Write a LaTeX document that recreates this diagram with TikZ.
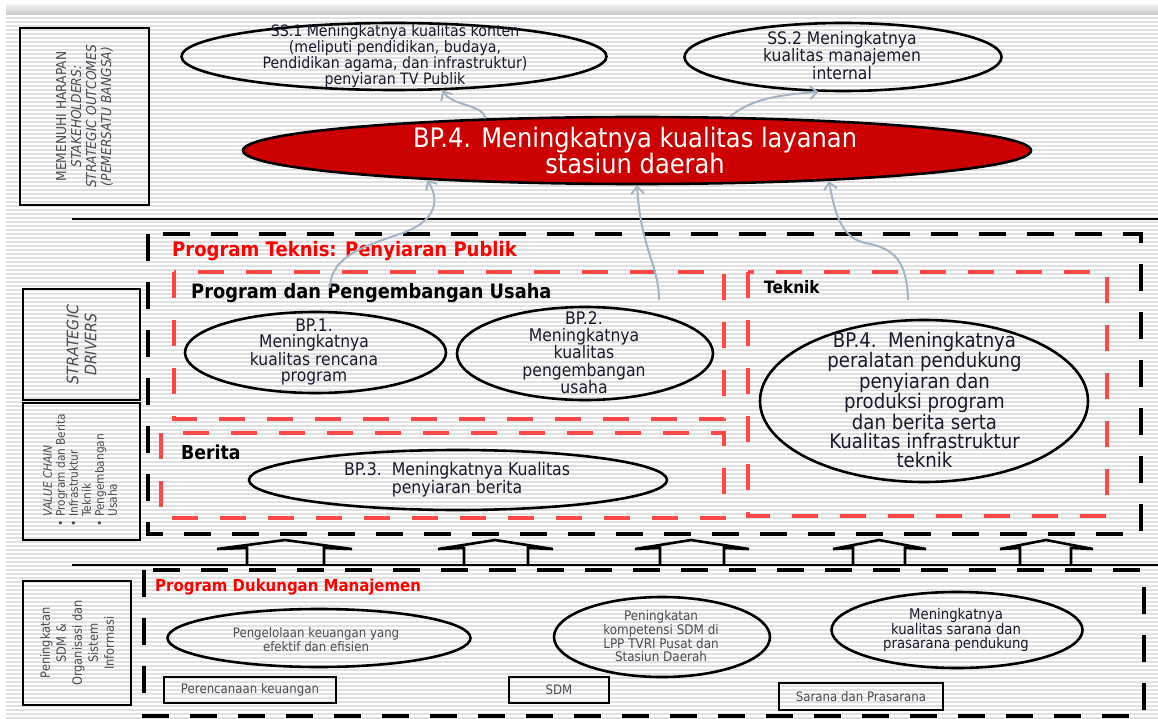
\documentclass[tikz,border=0pt]{standalone}
\usepackage{fontspec}
\setmainfont{DejaVu Sans}[FakeStretch=0.9]
\usetikzlibrary{shapes.geometric, arrows.meta, calc}

\definecolor{layananred}{RGB}{204,0,0}
\definecolor{dashred}{RGB}{255,72,72}
\definecolor{titlered}{RGB}{255,0,0}
\definecolor{linkgray}{RGB}{163,180,198}
\definecolor{stripegray}{RGB}{224,224,224}
\definecolor{inktxt}{RGB}{25,25,45}
\definecolor{softtxt}{RGB}{75,75,85}
\newcommand{\fsz}[2]{\fontsize{\fpeval{1.1*#1}}{#2}\selectfont}

\tikzset{>={Straight Barb[length=7pt,width=13pt]},
    oval/.style={draw, ellipse, line width=2.6pt, inner sep=0pt},
    ovaltxt/.style={align=center, text=inktxt, inner sep=0pt},
    sidebox/.style={draw, line width=2.6pt, inner sep=0pt},
    sidetxt/.style={rotate=90, align=center, text=softtxt, inner sep=0pt},
    blackdash/.style={line width=4.5pt, dash pattern=on 27pt off 21pt},
    reddash/.style={draw=dashred, line width=4.5pt, dash pattern=on 26pt off 22pt},
    link/.style={->, draw=linkgray, line width=2pt},
    house/.style={line width=2.6pt},
    heading/.style={anchor=west, inner sep=0pt}}

\begin{document}
\begin{tikzpicture}[x=1pt, y=-1pt]
    \useasboundingbox (0,0) rectangle (1158,719);

    % striped background
    \shade[top color=gray!12, bottom color=gray!45] (6,5) rectangle (1158,15);
    \foreach \yy in {18,22,...,718}
        \draw[stripegray, line width=1.6pt] (6,\yy) -- (1158,\yy);

    % side captions
    \node[sidebox, minimum width=129pt, minimum height=177pt] (outcomebox) at (84.5,116.5) {};
    \node[sidetxt, font=\fsz{12.4}{15}] (outcometxt) at (outcomebox) {MEMENUHI HARAPAN\\\textit{STAKEHOLDERS:}\\\textit{STRATEGIC OUTCOMES}\\\textit{(PEMERSATU BANGSA)}};
    \node[sidebox, minimum width=117pt, minimum height=111pt] (driverbox) at (81.5,344.5) {};
    \node[sidetxt, font=\fsz{14.4}{18}\itshape] (drivertxt) at (driverbox) {STRATEGIC\\DRIVERS};
    \node[sidebox, minimum width=117pt, minimum height=137pt] (chainbox) at (81.5,471.5) {};
    \node[sidetxt, align=left, font=\fsz{10.7}{13}] (chaintxt) at (80,470) {\hspace*{10pt}\textit{VALUE CHAIN}\\\textbullet\ Program dan Berita\\\textbullet\ Infrastruktur\\\phantom{\textbullet}\ Teknik\\\textbullet\ Pengembangan\\\phantom{\textbullet}\ Usaha};
    \node[sidebox, minimum width=108pt, minimum height=124pt] (orgbox) at (77,643) {};
    \node[sidetxt, font=\fsz{11.6}{16}] (orgtxt) at (orgbox) {Peningkatan\\SDM \&\\Organisasi dan\\Sistem\\Informasi};

    % outcomes
    \node[oval, minimum width=425pt, minimum height=67pt] (ss1) at (394,56.5) {};
    \node[ovaltxt, font=\fsz{14.3}{15.2}] (ss1txt) at (395,56) {SS.1 Meningkatnya kualitas konten\\(meliputi pendidikan, budaya,\\Pendidikan agama, dan infrastruktur)\\penyiaran TV Publik};
    \node[oval, minimum width=317pt, minimum height=68pt] (ss2) at (843,57) {};
    \node[ovaltxt, font=\fsz{15.7}{17.5}] (ss2txt) at (842,55.5) {SS.2 Meningkatnya\\kualitas manajemen\\internal};
    \node[oval, fill=layananred, minimum width=788pt, minimum height=67pt] (layanan) at (637,150.5) {};
    \node[ovaltxt, text=white, font=\fsz{24.4}{26}] (layanantxt) at (635,150) {BP.4. Meningkatnya kualitas layanan\\stasiun daerah};

    \draw[line width=2.5pt] (72,219) -- (1158,219);
    \draw[line width=2.5pt] (72,565) -- (1158,565);

    % program teknis
    \draw[blackdash] (148,234) rectangle (1141,534);
    \draw[reddash] (174,272) rectangle (724,419);
    \draw[reddash] (161,433) rectangle (724,518);
    \draw[reddash] (748,272) rectangle (1107,516);
    \node[heading, text=titlered, font=\fsz{18.2}{20}\bfseries] (teknishead) at (172,251) {Program Teknis: Penyiaran Publik};
    \node[heading, font=\fsz{18}{20}\bfseries] (usahahead) at (191,293) {Program dan Pengembangan Usaha};
    \node[heading, font=\fsz{17.5}{20}\bfseries] (beritahead) at (181,452) {Berita};
    \node[heading, font=\fsz{15.5}{18}\bfseries] (teknikhead) at (764,287) {Teknik};

    \node[oval, minimum width=261pt, minimum height=81pt] (bp1) at (315.5,352.5) {};
    \node[ovaltxt, font=\fsz{15.7}{16.6}] (bp1txt) at (314,352) {BP.1.\\Meningkatnya\\kualitas rencana\\program};
    \node[oval, minimum width=256pt, minimum height=93pt] (bp2) at (585,353.5) {};
    \node[ovaltxt, font=\fsz{15.8}{17.2}] (bp2txt) at (584,352.5) {BP.2.\\Meningkatnya\\kualitas\\pengembangan\\usaha};
    \node[oval, minimum width=418pt, minimum height=60pt] (bp3) at (458,480) {};
    \node[ovaltxt, font=\fsz{15.9}{16.2}] (bp3txt) at (457,480) {BP.3.\ \ Meningkatnya Kualitas\\penyiaran berita};
    \node[oval, minimum width=328pt, minimum height=162pt] (bp4) at (924,401) {};
    \node[ovaltxt, font=\fsz{18.3}{19.3}] (bp4txt) at (924.5,400) {BP.4.\ \ Meningkatnya\\peralatan pendukung\\penyiaran dan\\produksi program\\dan berita serta\\Kualitas infrastruktur\\teknik};

    % house arrows
    \foreach \xa/\xl/\xc/\xr/\xb in {217/247/285/324/352, 438/464/495/528/553, 635/660/691/724/749, 833/853/879/905/926, 1000/1020/1046/1071/1093}
        \draw[house] (\xl,565) -- (\xl,548) -- (\xa,549) -- (\xc,540) -- (\xb,549) -- (\xr,548) -- (\xr,565);

    % dukungan manajemen
    \draw[blackdash] (144,570) rectangle (1144,716);
    \node[heading, text=titlered, font=\fsz{15.1}{17}\bfseries] (dukunganhead) at (155,587) {Program Dukungan Manajemen};
    \node[oval, minimum width=303pt, minimum height=58pt] (keu) at (319,638) {};
    \node[ovaltxt, text=softtxt, font=\fsz{11.9}{14}] (keutxt) at (316,640) {Pengelolaan keuangan yang\\efektif dan efisien};
    \node[oval, minimum width=216pt, minimum height=80pt] (komp) at (662,637) {};
    \node[ovaltxt, text=softtxt, font=\fsz{12.1}{12.7}] (komptxt) at (661,636) {Peningkatan\\kompetensi SDM di\\LPP TVRI Pusat dan\\Stasiun Daerah};
    \node[oval, minimum width=251pt, minimum height=76pt] (prasarana) at (957,630) {};
    \node[ovaltxt, font=\fsz{13.4}{14}] (prasaranatxt) at (956,630) {Meningkatnya\\kualitas sarana dan\\prasarana pendukung};
    \node[sidebox, minimum width=172pt, minimum height=26pt, text=softtxt, font=\fsz{11.9}{14}] (rencana) at (250,690) {Perencanaan keuangan};
    \node[sidebox, minimum width=100pt, minimum height=26pt, text=softtxt, font=\fsz{11.9}{14}] (sdm) at (559,690) {SDM};
    \node[sidebox, minimum width=164pt, minimum height=27pt, text=softtxt, font=\fsz{11.9}{14}] (sarana) at (861,696.5) {Sarana dan Prasarana};

    % links up to the outcomes
    \coordinate (progsrc) at (330,288);
    \coordinate (usahasrc) at (659,300);
    \coordinate (teksrc) at (908,300);
    \draw[link] (layanan.168.7) .. controls (482,104) and (452,106) .. (ss1.325.2);
    \draw[link] (layanan.20.6) .. controls (750,100) and (775,95) .. (ss2.235.6);
    \draw[link] (progsrc) .. controls (331,262) and (350,250) .. (400,234) .. controls (430,224) and (443,205) .. (layanan.188.8);
    \draw[link] (usahasrc) .. controls (659,265) and (641,250) .. (layanan.270);
    \draw[link] (teksrc) .. controls (907,262) and (895,248) .. (865,243) .. controls (845,238) and (836,222) .. (layanan.351.7);
\end{tikzpicture}
\end{document}
